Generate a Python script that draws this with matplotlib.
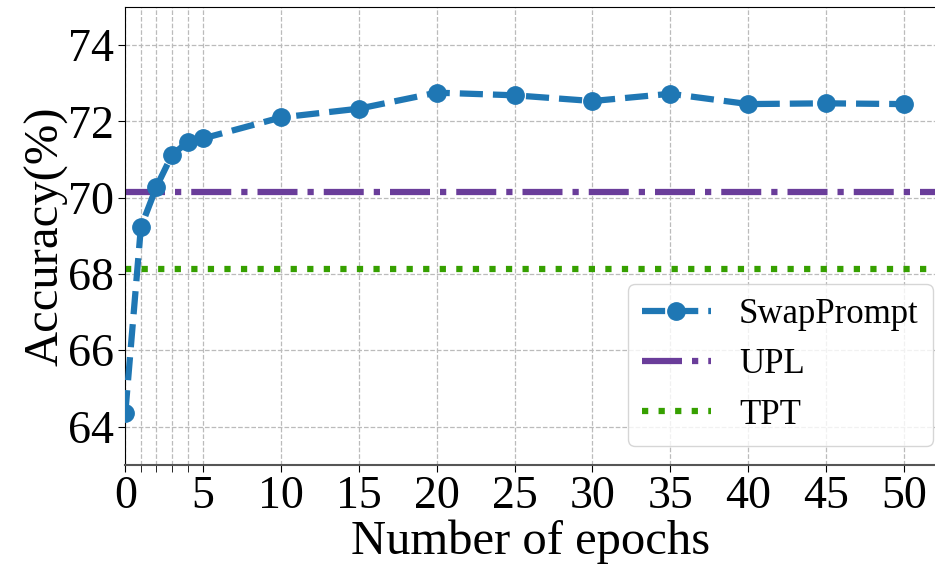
import matplotlib
matplotlib.use('Agg')
import matplotlib.pyplot as plt
from matplotlib.ticker import FixedLocator

epochs = [0, 1, 2, 3, 4, 5, 10, 15, 20, 25, 30, 35, 40, 45, 50]
swapprompt = [64.35, 69.22, 70.28, 71.12, 71.45, 71.55, 72.1, 72.33, 72.75, 72.68, 72.53, 72.72, 72.45, 72.47, 72.45]
upl_acc = 70.15
tpt_acc = 68.12
xticks = [0, 5, 10, 15, 20, 25, 30, 35, 40, 45, 50]
minor_xticks = [1, 2, 3, 4]
yticks = [64, 66, 68, 70, 72, 74]

plt.rcParams['font.family'] = ['Liberation Serif', 'DejaVu Serif']

fig = plt.figure(figsize=(9.35, 5.64), dpi=100)
ax = fig.add_axes([0.134, 0.176, 0.866, 0.812])

ax.plot(epochs, swapprompt, linestyle='--', color='#1f77b4', linewidth=4.5,
        marker='o', markersize=12.5, label='SwapPrompt', zorder=3)
ax.axhline(upl_acc, color='#6a3d9a', linestyle='-.', linewidth=4.5, label='UPL')
ax.axhline(tpt_acc, color='#36a000', linestyle=':', linewidth=4.5, label='TPT')

ax.set_xlim(0, 52)
ax.set_ylim(63, 75)
ax.set_xticks(xticks)
ax.xaxis.set_minor_locator(FixedLocator(minor_xticks))
ax.set_yticks(yticks)
ax.tick_params(axis='both', which='major', labelsize=33, length=5, pad=3)
ax.tick_params(axis='x', which='minor', length=5)
ax.grid(True, which='both', linestyle='--', color='#bbbbbb', linewidth=0.9)
ax.set_axisbelow(True)

ax.spines['bottom'].set_color('#555555')
ax.spines['bottom'].set_linewidth(1.5)
ax.spines['right'].set_visible(False)

ax.set_xlabel('Number of epochs', fontsize=35, labelpad=1)
ax.set_ylabel('Accuracy(%)', fontsize=35, labelpad=0)

ax.legend(loc='lower right', fontsize=25, handlelength=2.0,
          borderpad=0.4, labelspacing=0.5, borderaxespad=0,
          bbox_to_anchor=(0.997, 0.042))

fig.savefig('out.png', dpi=100)
